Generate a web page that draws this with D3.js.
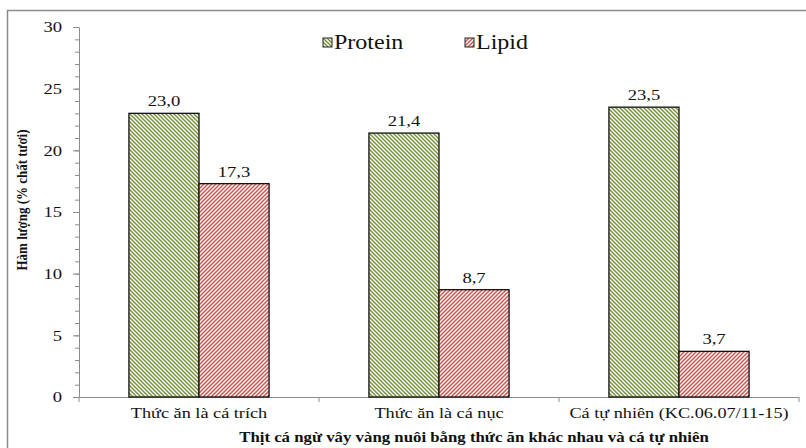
<!DOCTYPE html>
<html>
<head>
<meta charset="utf-8">
<script src="https://cdn.jsdelivr.net/npm/d3@7"></script>
<style>
  html, body { margin: 0; padding: 0; background: #fff; }
</style>
</head>
<body>
<svg id="chart" width="806" height="448"></svg>
<script>
// Composition of yellowfin tuna meat (% fresh weight)
const categories = ["Thức ăn là cá trích", "Thức ăn là cá nục", "Cá tự nhiên (KC.06.07/11-15)"];
const seriesNames = ["Protein", "Lipid"];
const proteinValues = [23.0, 21.4, 23.5];
const lipidValues = [17.3, 8.7, 3.7];
const yTicks = [0, 5, 10, 15, 20, 25, 30];

const series = [
  { name: seriesNames[0], values: proteinValues, color: "#77933c", dir: "down" },
  { name: seriesNames[1], values: lipidValues, color: "#d25450", dir: "up" }
];

const FONT = "Liberation Serif";
const SX = 1.2; // horizontal stretch applied to all lettering
const svg = d3.select("#chart");
const W = 806, H = 448;
const plotLeft = 79, plotRight = 799, plotTop = 27, plotBottom = 397;

function label(sel, size, weight) {
  return sel.style("font-family", FONT).style("font-size", size + "px")
    .style("font-weight", weight || "normal").attr("fill", "#111");
}

// Frame around the chart area
svg.append("rect")
  .attr("x", 7.5).attr("y", 10.5)
  .attr("width", W).attr("height", H)
  .attr("fill", "none").attr("stroke", "#8c8c8c").attr("stroke-width", 1.5);

// Hatch patterns
const defs = svg.append("defs");
series.forEach((s, i) => {
  const p = defs.append("pattern")
    .attr("id", "hatch" + i)
    .attr("patternUnits", "userSpaceOnUse")
    .attr("width", 4).attr("height", 4);
  p.append("rect").attr("width", 4).attr("height", 4).attr("fill", "#fff");
  const d = s.dir === "down"
    ? "M-1,-1 L5,5 M-1,3 L1,5 M3,-1 L5,1"
    : "M-1,5 L5,-1 M-1,1 L1,-1 M3,5 L5,3";
  p.append("path").attr("d", d).attr("stroke", s.color).attr("stroke-width", 1.5);
});

const x0 = d3.scaleBand().domain(categories).range([plotLeft, plotRight]).paddingInner(0).paddingOuter(0);
const x1 = d3.scaleBand().domain(seriesNames).range([0, x0.bandwidth()]).paddingInner(0).paddingOuter(0.7126);
const y = d3.scaleLinear().domain([0, 30]).range([plotBottom, plotTop]);

// Y axis: minor ticks each unit, labelled major ticks each 5
const yMinor = d3.axisLeft(y).tickValues(d3.range(0, 31, 1)).tickSize(4).tickFormat("");
svg.append("g").attr("transform", `translate(${plotLeft},0)`).call(yMinor)
  .call(g => g.selectAll("line").attr("stroke", "#8c8c8c"))
  .call(g => g.select(".domain").remove());

const yAxis = d3.axisLeft(y).tickValues(yTicks).tickSize(6).tickPadding(11).tickSizeOuter(0);
svg.append("g").attr("transform", `translate(${plotLeft},0)`).call(yAxis)
  .call(g => g.selectAll("line").attr("stroke", "#8c8c8c"))
  .call(g => g.select(".domain").attr("stroke", "#8c8c8c"))
  .call(g => label(g.selectAll("text"), 15.5)
    .attr("x", -17 / SX).attr("transform", `scale(${SX},1)`));

// X axis with boundary ticks between categories
const xAxisG = svg.append("g").attr("transform", `translate(0,${plotBottom})`);
xAxisG.append("line").attr("x1", plotLeft).attr("x2", plotRight).attr("y1", 0.5).attr("y2", 0.5).attr("stroke", "#8c8c8c");
const bounds = categories.map(c => x0(c)).concat([plotRight]);
xAxisG.selectAll("line.b").data(bounds).join("line").attr("class", "b")
  .attr("x1", d => d).attr("x2", d => d).attr("y1", 0).attr("y2", 5).attr("stroke", "#8c8c8c");
label(xAxisG.selectAll("text.cat").data(categories).join("text").attr("class", "cat"), 15.2)
  .attr("transform", d => `translate(${x0(d) + x0.bandwidth() / 2},21) scale(${SX},1)`)
  .attr("text-anchor", "middle").text(d => d);

// Bars
const groups = svg.append("g").selectAll("g").data(series).join("g");
groups.each(function (s, i) {
  const g = d3.select(this);
  const rows = s.values.map((v, j) => ({ v, c: categories[j] }));
  g.selectAll("rect").data(rows).join("rect")
    .attr("x", d => x0(d.c) + x1(s.name))
    .attr("y", d => y(d.v))
    .attr("width", x1.bandwidth())
    .attr("height", d => y(0) - y(d.v))
    .attr("fill", `url(#hatch${i})`)
    .attr("stroke", "#111").attr("stroke-width", 1.3);
  label(g.selectAll("text").data(rows).join("text"), 15.5)
    .attr("transform", d => `translate(${x0(d.c) + x1(s.name) + x1.bandwidth() / 2},${y(d.v) - 7}) scale(${SX},1)`)
    .attr("text-anchor", "middle")
    .text(d => d3.format(".1f")(d.v).replace(".", ","));
});

// Legend
const legendX = [323, 465];
const legend = svg.append("g").selectAll("g").data(series).join("g")
  .attr("transform", (d, i) => `translate(${legendX[i]},38)`);
legend.append("rect").attr("width", 9).attr("height", 9)
  .attr("fill", (d, i) => `url(#hatch${i})`).attr("stroke", "#222").attr("stroke-width", 1);
label(legend.append("text"), 20)
  .attr("transform", `translate(11,11) scale(${SX},1)`).text(d => d.name);

// Axis titles
label(svg.append("text"), 13, "bold")
  .attr("transform", `translate(27,200) scale(${SX},1) rotate(-90)`)
  .attr("text-anchor", "middle")
  .text("Hàm lượng (% chất tươi)");
label(svg.append("text"), 14, "bold")
  .attr("transform", `translate(474,442) scale(${SX},1)`)
  .attr("text-anchor", "middle")
  .text("Thịt cá ngừ vây vàng nuôi bằng thức ăn khác nhau và cá tự nhiên");
</script>
</body>
</html>
